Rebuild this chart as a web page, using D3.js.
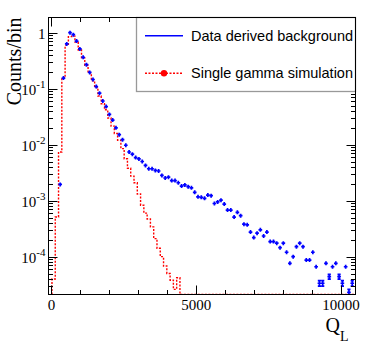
<!DOCTYPE html>
<html>
<head>
<meta charset="utf-8">
<script src="https://d3js.org/d3.v7.min.js"></script>
<style>
  body { margin: 0; background: #fff; }
  svg { display: block; }
</style>
</head>
<body>
<div id="chart"></div>
<script>
// Q_L binning
const binStart = 20;
const binWidth = 113.3;
const nBins = 92;

// data derived background, counts/bin (normalised to peak)
const background = [
  null, null, 1.95e-3, 0.155, 0.631, 1.0, 0.923, 0.708, 0.513, 0.363,
  0.269, 0.195, 0.146, 0.109, 0.0832, 0.0603, 0.0479, 0.0347, 0.0275, 0.0200,
  0.0151, 0.0123, 0.00977, 0.00741, 0.00676, 0.00589, 0.00556, 0.00501, 0.00427, 0.00372,
  0.00372, 0.00347, 0.00339, 0.00282, 0.00254, 0.00263, 0.00229, 0.00229, 0.00209, 0.00182,
  0.00191, 0.00178, 0.00170, 0.00141, 0.00117, 0.00115, 0.00110, 0.00126, 0.00123, 0.00089,
  0.00095, 0.00102, 0.00087, 0.00068, 0.00068, 0.00051, 0.00062, 0.00054, 0.00038, 0.00037,
  2.75e-4, 2.19e-4, 2.63e-4, 3.02e-4, 2.34e-4, 2.75e-4, 1.86e-4, 1.86e-4, 1.74e-4, 1.45e-4,
  1.74e-4, 1.20e-4, 7.6e-5, 1.00e-4, 1.51e-4, 1.74e-4, 1.51e-4, 8.7e-5, 8.7e-5, 1.20e-4,
  6.6e-5, 3.35e-5, 3.35e-5, 7.6e-5, 4.4e-5, 6.6e-5, 7.6e-5, 4.4e-5, 3.35e-5, 6.6e-5,
  2.3e-5, 3.35e-5
];

// relative statistical error on background, percent
const backgroundErr = [
  0, 0, 1.4, 0.2, 0.2, 0.2, 0.2, 0.2, 0.2, 0.2,
  0.2, 0.2, 0.2, 0.4, 0.4, 0.4, 0.4, 0.4, 0.4, 0.4,
  0.4, 0.7, 0.7, 0.7, 0.7, 0.7, 0.7, 0.7, 1.2, 1.2,
  1.2, 1.2, 1.2, 1.2, 1.2, 1.2, 1.2, 1.2, 1.2, 1.8,
  1.8, 1.8, 1.8, 1.8, 1.8, 1.8, 1.8, 1.8, 1.8, 1.8,
  1.8, 1.8, 1.8, 2.8, 2.8, 2.8, 2.8, 2.8, 2.8, 2.8,
  4.5, 4.5, 4.5, 4.5, 4.5, 4.5, 4.5, 4.5, 4.5, 4.5,
  4.5, 6.0, 7.3, 6.4, 5.2, 4.8, 5.2, 6.8, 6.8, 5.8,
  7.8, 11, 11, 7.3, 9.6, 7.8, 7.3, 9.6, 11, 7.8,
  13, 11
];

// single gamma simulation, counts/bin (empty bins after the last entry)
const simulation = [
  4.0e-5, 5.1e-4, 7.4e-3, 0.155, 0.60, 0.85, 0.87, 0.68, 0.49, 0.355,
  0.263, 0.19, 0.138, 0.105, 0.074, 0.054, 0.042, 0.030, 0.0215, 0.0158,
  0.0120, 0.0085, 0.0056, 0.0038, 0.00275, 0.00209, 0.00132, 0.00083, 0.00060, 0.00047,
  0.00034, 0.00021, 1.41e-4, 1.00e-4, 6.8e-5, 5.0e-5, 3.8e-5, 2.6e-5, 4.2e-5
];

const xTicksMajor = [0, 5000, 10000];
const xTickLabels = ['0', '5000', '10000'];
const yTicksMajor = [1, 1e-1, 1e-2, 1e-3, 1e-4];
const yTickExponents = [null, '-1', '-2', '-3', '-4'];
const legendLabels = ['Data derived background', 'Single gamma simulation'];

const width = 374, height = 351;
const frame = { left: 48.5, right: 355.5, top: 17.5, bottom: 294.5 };
const blue = '#0000ff', red = '#ff0000';
const serif = '"Liberation Serif", "Times New Roman", serif';
const sans = '"Liberation Sans", Arial, sans-serif';

const svg = d3.select('#chart')
  .append('svg')
  .attr('width', width)
  .attr('height', height);

const x = d3.scaleLinear().domain([-100, 10500]).range([frame.left, frame.right]);
const y = d3.scaleLog().domain([2.11e-5, 1.87]).range([frame.bottom, frame.top]);

svg.append('clipPath').attr('id', 'frameclip')
  .append('rect')
  .attr('x', frame.left).attr('y', frame.top)
  .attr('width', frame.right - frame.left)
  .attr('height', frame.bottom - frame.top);

const plot = svg.append('g').attr('clip-path', 'url(#frameclip)');

// red step histogram, empty bins sit on the frame bottom
const edge = i => binStart + i * binWidth;
const path = d3.path();
path.moveTo(x(edge(0)), frame.bottom);
for (let i = 0; i < nBins; i++) {
  const v = simulation[i] || 0;
  const yy = v > 0 ? y(v) : frame.bottom;
  path.lineTo(x(edge(i)), yy);
  path.lineTo(x(edge(i + 1)), yy);
}
path.lineTo(x(edge(nBins)), frame.bottom);
path.lineTo(frame.right, frame.bottom);

plot.append('path')
  .attr('d', path.toString())
  .attr('fill', 'none')
  .attr('stroke', red)
  .attr('stroke-width', 1.4)
  .attr('stroke-dasharray', '2,1.5');

// blue points with error bars
const pts = plot.append('g')
  .attr('stroke', blue)
  .attr('stroke-width', 1.7);

background.forEach((v, i) => {
  if (!v) return;
  const cx = x(edge(i) + binWidth / 2);
  const cy = y(v);
  const e = v * backgroundErr[i] / 100;
  const y1 = y(v + e), y2 = y(v - e);
  const hw = (x(edge(i + 1)) - x(edge(i))) / 2 + 0.2;

  pts.append('line')
    .attr('x1', cx - hw).attr('x2', cx + hw)
    .attr('y1', cy).attr('y2', cy);
  pts.append('line')
    .attr('x1', cx).attr('x2', cx)
    .attr('y1', Math.min(y1, cy - 2)).attr('y2', Math.max(y2, cy + 2));
  if (y2 - y1 > 4) {
    [y1, y2].forEach(yc => {
      pts.append('line')
        .attr('x1', cx - 1.6).attr('x2', cx + 1.6)
        .attr('y1', yc).attr('y2', yc);
    });
  }
});

// ticks on all four sides
const ticks = svg.append('g').attr('stroke', '#000').attr('stroke-width', 1);

d3.range(0, 10500, 1000).forEach(v => {
  const len = xTicksMajor.includes(v) ? 9 : 4.5;
  const px = Math.round(x(v)) + 0.5;
  ticks.append('line').attr('x1', px).attr('x2', px)
    .attr('y1', frame.bottom).attr('y2', frame.bottom - len);
  ticks.append('line').attr('x1', px).attr('x2', px)
    .attr('y1', frame.top).attr('y2', frame.top + len);
});

const yMinor = [];
for (let d = -5; d <= 0; d++) {
  for (let m = 1; m <= 9; m++) {
    const v = m * Math.pow(10, d);
    if (v >= y.domain()[0] && v <= y.domain()[1]) yMinor.push({ v, major: m === 1 });
  }
}
yMinor.forEach(t => {
  const len = t.major ? 9 : 4.5;
  const py = Math.round(y(t.v)) + 0.5;
  ticks.append('line').attr('x1', frame.left).attr('x2', frame.left + len)
    .attr('y1', py).attr('y2', py);
  ticks.append('line').attr('x1', frame.right).attr('x2', frame.right - len)
    .attr('y1', py).attr('y2', py);
});

// tick labels
svg.append('g').selectAll('text')
  .data(xTicksMajor)
  .join('text')
  .attr('x', d => x(d))
  .attr('y', 310)
  .attr('text-anchor', 'middle')
  .attr('font-family', serif)
  .attr('font-size', 15)
  .text((d, i) => xTickLabels[i]);

yTicksMajor.forEach((v, i) => {
  const t = svg.append('text')
    .attr('x', 45.5)
    .attr('y', y(v) + 6)
    .attr('text-anchor', 'end')
    .attr('font-family', serif)
    .attr('font-size', 15);
  if (yTickExponents[i] === null) {
    t.text('1');
  } else {
    t.append('tspan').text('10');
    t.append('tspan').attr('dy', -7).attr('font-size', 11).text(yTickExponents[i]);
  }
});

// axis titles
svg.append('text')
  .attr('transform', `translate(21, ${frame.top}) rotate(-90)`)
  .attr('text-anchor', 'end')
  .attr('font-family', serif)
  .attr('font-size', 20)
  .text('Counts/bin');

const qt = svg.append('text')
  .attr('x', 325.5)
  .attr('y', 332)
  .attr('font-family', serif)
  .attr('font-size', 20);
qt.append('tspan').text('Q');
qt.append('tspan').attr('dy', 8.5).attr('font-size', 14).text('L');

// legend
const legend = svg.append('g');
legend.append('rect')
  .attr('x', 136.5).attr('y', frame.top)
  .attr('width', frame.right - 136.5).attr('height', 74)
  .attr('fill', '#fff')
  .attr('stroke', '#999')
  .attr('stroke-width', 1.3);

legend.append('line')
  .attr('x1', 145).attr('x2', 183)
  .attr('y1', 35.7).attr('y2', 35.7)
  .attr('stroke', blue).attr('stroke-width', 1.4);
legend.append('line')
  .attr('x1', 145).attr('x2', 183)
  .attr('y1', 73.3).attr('y2', 73.3)
  .attr('stroke', red).attr('stroke-width', 1.4)
  .attr('stroke-dasharray', '2,1.5');
legend.append('circle')
  .attr('cx', 164).attr('cy', 73.3).attr('r', 3.2)
  .attr('fill', red);

legend.selectAll('text.lab')
  .data(legendLabels)
  .join('text')
  .attr('class', 'lab')
  .attr('x', 191)
  .attr('y', (d, i) => i === 0 ? 40.8 : 78.4)
  .attr('font-family', sans)
  .attr('font-size', 14.5)
  .attr('fill', '#000')
  .text(d => d);

// frame on top
svg.append('rect')
  .attr('x', frame.left).attr('y', frame.top)
  .attr('width', frame.right - frame.left)
  .attr('height', frame.bottom - frame.top)
  .attr('fill', 'none')
  .attr('stroke', '#000')
  .attr('stroke-width', 1);
</script>
</body>
</html>
